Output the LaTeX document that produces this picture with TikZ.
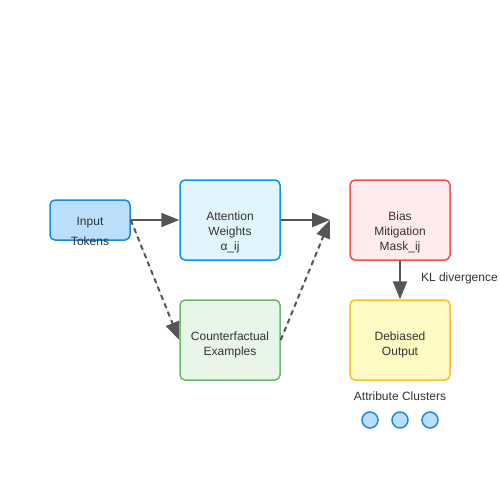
\documentclass[tikz,border=0pt]{standalone}
\usepackage{fontspec}
\setmainfont{Liberation Sans}
\usetikzlibrary{arrows.meta,positioning}
\definecolor{tokfill}{HTML}{BBDEFB}
\definecolor{tokline}{HTML}{1E88E5}
\definecolor{attfill}{HTML}{E1F5FE}
\definecolor{attline}{HTML}{039BE5}
\definecolor{cffill}{HTML}{E8F5E9}
\definecolor{cfline}{HTML}{66BB6A}
\definecolor{biasfill}{HTML}{FFEBEE}
\definecolor{biasline}{HTML}{EF5350}
\definecolor{outfill}{HTML}{FFF9C4}
\definecolor{outline}{HTML}{FBC02D}
\definecolor{arrowgray}{HTML}{555555}
\definecolor{textgray}{HTML}{333333}
\begin{document}
\begin{tikzpicture}[x=1pt,y=-1pt,
    box/.style={draw,rounded corners=5pt,line width=1.5pt,minimum width=100pt,minimum height=80pt,inner sep=0pt},
    txt/.style={text=textgray,font=\fontsize{12}{15}\selectfont,inner sep=0pt,align=center},
    flow/.style={-{Triangle[length=18pt,width=14pt]},line width=2pt,draw=arrowgray,fill=arrowgray},
    cf flow/.style={flow,dash pattern=on 5pt off 4pt},
    clu/.style={circle,draw=tokline,fill=tokfill,line width=1.5pt,minimum size=16pt,inner sep=0pt}]
            \useasboundingbox (0,0) rectangle (500,500);
            \node[box,fill=tokfill,draw=tokline,minimum width=80pt,minimum height=40pt,
                  label={[txt,yshift=-3pt]center:Input}] (tok) at (90,220) {};
            \node[txt] (tok2) at (90,241) {Tokens};
            \node[box,fill=attfill,draw=attline,
                  label={[txt,yshift=-12pt]center:Attention\\Weights\\α\_ij}] (att) at (230,220) {};
            \node[box,fill=cffill,draw=cfline,
                  label={[txt,yshift=-5pt]center:Counterfactual\\Examples}] (cf) at (230,340) {};
            \node[box,fill=biasfill,draw=biasline,
                  label={[txt,yshift=-12pt]center:Bias\\Mitigation\\Mask\_ij}] (bias) at (400,220) {};
            \node[box,fill=outfill,draw=outline,
                  label={[txt,yshift=-5pt]center:Debiased\\Output}] (out) at (400,340) {};
            \coordinate (mix) at (330,220);

            \draw[flow] (tok.east) -- (att.west);
            \draw[flow] (att.east) -- (mix);
            \draw[cf flow] (tok.east) -- (cf.west);
            \draw[cf flow] (cf.east) -- (mix);
            \draw[flow] (bias.south) -- node[txt,right=20pt,pos=0.45] {KL divergence} (out.north);

            \node[txt] (attr) at (400,396) {Attribute Clusters};
            \node[clu] (c1) at (370,420) {};
            \node[clu] (c2) at (400,420) {};
            \node[clu] (c3) at (430,420) {};
          \end{tikzpicture}
\end{document}
